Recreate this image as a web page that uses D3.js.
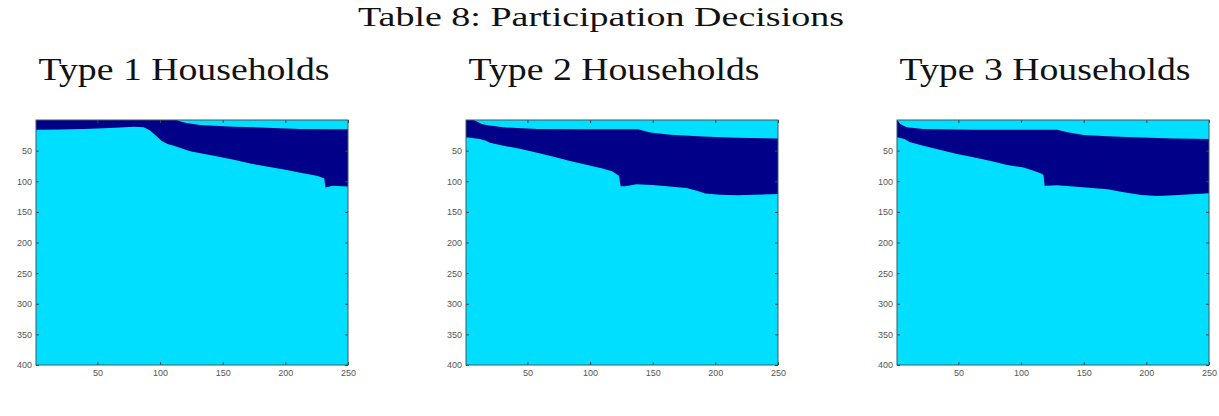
<!DOCTYPE html>
<html>
<head>
<meta charset="utf-8">
<script src="https://cdn.jsdelivr.net/npm/d3@7"></script>
<style>
  body { margin: 0; background: #fff; }
  svg { display: block; }
</style>
</head>
<body>
<svg id="chart"></svg>
<script>
// Tick values shared by all three panels
const xTicks = [50, 100, 150, 200, 250];
const yTicks = [50, 100, 150, 200, 250, 300, 350, 400];

const panelTitles = ["Type 1 Households", "Type 2 Households", "Type 3 Households"];

// Boundaries of the dark (participating) region, [column, row]
const type1Upper = [[1,0],[113,0],[117,3],[121,5],[132,8],[159,11],[185,12.5],[212,14.5],[238,15],[250,15]];
const type1Lower = [[1,16],[20,15.5],[39,14.5],[60,13],[79,11],[87,12],[92,17],[97,26],[101,34],[106,39],
  [111,42],[124,51],[145,59],[159,65],[172,71],[185,76],[199,81],[212,86],[225,91],[231,95],[232,110],
  [238,107.5],[250,108.5]];

const type2Upper = [[1,0],[7,0],[10,3],[14,7],[20,9],[31,12],[58,14.5],[97,15],[138,15],[142,17],[148,20.5],
  [164,24],[190,27],[217,29],[250,30]];
const type2Lower = [[1,28],[6,29.5],[12,31],[17,34],[20,37],[31,42],[44,47],[57,53],[71,60],[84,67],[97,73],
  [110,79],[118,84],[123,91],[124.5,108],[128,108],[137,105],[150,106],[177,111],[186,116],[192,120],
  [204,122],[218,123],[230,122],[250,121]];

const type3Upper = [[1,0],[2,2],[3.5,6.5],[8.7,12],[22,14.7],[62,15.8],[129,15.8],[133,18],[137,20],[150,24.5],
  [169,26.7],[196,28.4],[222,30],[250,31]];
const type3Lower = [[1,28],[7,31],[11,36],[22,42],[35,48.5],[49,55.5],[62,61],[75,66.5],[89,73.5],[102,77.5],
  [110,83],[117,88],[118,91],[118.8,107.5],[129,106.5],[142,108.5],[169,113],[182,118],[196,122.5],
  [209,124],[222,123],[250,119.5]];

const panels = [
  { title: panelTitles[0], upper: type1Upper, lower: type1Lower },
  { title: panelTitles[1], upper: type2Upper, lower: type2Lower },
  { title: panelTitles[2], upper: type3Upper, lower: type3Lower }
];

const W = 1219, H = 416;
const cyan = "#00dfff", navy = "#000088";
const plotW = 312, plotH = 245, plotTop = 120;
const lefts = [36, 466, 897];

const svg = d3.select("#chart").attr("width", W).attr("height", H);

// Main title
svg.append("text")
  .attr("x", 601).attr("y", 26)
  .attr("text-anchor", "middle")
  .attr("textLength", 486).attr("lengthAdjust", "spacingAndGlyphs")
  .style("font-family", "'Liberation Serif', serif")
  .style("font-size", "28px")
  .style("fill", "#111")
  .text("Table 8: Participation Decisions");

const x = d3.scaleLinear().domain([1, 250]).range([0, plotW]);
const y = d3.scaleLinear().domain([0, 400]).range([0, plotH]);

const line = d3.line().x(d => x(d[0])).y(d => y(d[1]));

panels.forEach((p, i) => {
  const g = svg.append("g").attr("transform", `translate(${lefts[i]},${plotTop})`);

  // Panel heading
  svg.append("text")
    .attr("x", lefts[i] + plotW / 2 - 8).attr("y", 80)
    .attr("text-anchor", "middle")
    .attr("textLength", 291).attr("lengthAdjust", "spacingAndGlyphs")
    .style("font-family", "'Liberation Serif', serif")
    .style("font-size", "32px")
    .style("fill", "#111")
    .text(p.title);

  g.append("clipPath").attr("id", "clip" + i)
    .append("rect").attr("width", plotW).attr("height", plotH);

  g.append("rect").attr("width", plotW).attr("height", plotH).attr("fill", cyan);

  // dark region: upper boundary left to right, lower boundary back
  g.append("path")
    .attr("clip-path", `url(#clip${i})`)
    .attr("d", line(p.upper.concat(p.lower.slice().reverse())) + "Z")
    .attr("fill", navy);

  const styleAxis = sel => {
    sel.select(".domain").remove();
    sel.selectAll("line").attr("stroke", "#444");
    sel.selectAll("text")
      .style("font-family", "'Liberation Sans', Arial, sans-serif")
      .style("font-size", "9px")
      .style("fill", "#555");
  };

  g.append("g").attr("transform", `translate(0,${plotH})`)
    .call(d3.axisBottom(x).tickValues(xTicks).tickSize(-3).tickPadding(5))
    .call(styleAxis);
  g.append("g")
    .call(d3.axisLeft(y).tickValues(yTicks).tickSize(-3).tickPadding(4))
    .call(styleAxis);
  g.append("g")
    .call(d3.axisTop(x).tickValues(xTicks).tickSize(-3).tickFormat(""))
    .call(styleAxis);
  g.append("g").attr("transform", `translate(${plotW},0)`)
    .call(d3.axisRight(y).tickValues(yTicks).tickSize(-3).tickFormat(""))
    .call(styleAxis);

  g.append("rect").attr("width", plotW).attr("height", plotH)
    .attr("fill", "none").attr("stroke", "#3a5a66").attr("stroke-width", 1);
});
</script>
</body>
</html>
